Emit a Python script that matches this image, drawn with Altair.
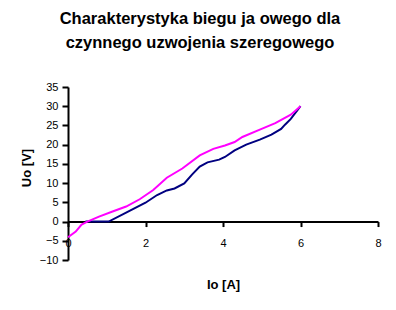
import altair as alt
import pandas as pd

title_lines = ["Charakterystyka biegu ja owego dla", "czynnego uzwojenia szeregowego"]

io_navy = [0.45, 1.05, 1.5, 2.0, 2.3, 2.55, 2.75, 3.0, 3.2, 3.4, 3.6, 3.9, 4.05, 4.3, 4.6, 4.95, 5.25, 5.5, 5.6, 5.75, 6.0]
uo_navy = [0, 0, 2.3, 4.9, 6.9, 8.1, 8.6, 9.9, 12.2, 14.3, 15.4, 16.1, 16.8, 18.5, 20.0, 21.3, 22.6, 24.1, 25.2, 26.7, 30.0]

io_mag = [0, 0.2, 0.35, 0.5, 0.8, 1.15, 1.5, 1.85, 2.2, 2.55, 2.95, 3.4, 3.75, 4.05, 4.3, 4.5, 4.95, 5.35, 5.75, 6.0]
uo_mag = [-4.1, -2.6, -0.8, 0, 1.3, 2.6, 3.9, 5.8, 8.2, 11.4, 13.8, 17.2, 18.9, 19.8, 20.7, 22.0, 23.9, 25.6, 27.8, 30.0]

x_ticks = [0, 2, 4, 6, 8]
y_ticks = [-10, -5, 0, 5, 10, 15, 20, 25, 30, 35]

W, H = 310, 173
zero_off = -(H * 10 / 45)

df_navy = pd.DataFrame({"Io": io_navy, "Uo": uo_navy})
df_mag = pd.DataFrame({"Io": io_mag, "Uo": uo_mag})

FONT = "Liberation Sans"

x_enc = alt.X(
    "Io:Q",
    scale=alt.Scale(domain=[0, 8], nice=False),
    axis=alt.Axis(
        values=x_ticks, title="Io [A]", offset=zero_off, grid=False,
        domainColor="black", domainWidth=2, tickColor="black", tickWidth=2, tickSize=5,
        labelPadding=11, labelFont=FONT, labelFontSize=11, labelColor="black",
        titleFont=FONT, titleFontSize=13, titleFontWeight="bold", titleColor="black",
        titleX=W / 2, titleY=63, titleBaseline="middle", labelFlush=False,
        labelOverlap=False,
    ),
)
y_enc = alt.Y(
    "Uo:Q",
    scale=alt.Scale(domain=[-10, 35], nice=False, zero=False),
    axis=alt.Axis(
        values=y_ticks, tickCount=10, title="Uo [V]", grid=False,
        domainColor="black", domainWidth=2, tickColor="black", tickWidth=2, tickSize=6,
        labelPadding=4, labelFont=FONT, labelFontSize=11, labelColor="black",
        titleFont=FONT, titleFontSize=13, titleFontWeight="bold", titleColor="black",
        titleX=-42, titleY=H / 2 - 6, titleBaseline="middle", labelFlush=False,
        labelOverlap=False,
    ),
)

navy = alt.Chart(df_navy).mark_line(color="#000080", strokeWidth=2).encode(x=x_enc, y=y_enc)
mag = alt.Chart(df_mag).mark_line(color="#FF00FF", strokeWidth=2).encode(x=x_enc, y=y_enc)

chart = (
    alt.layer(navy, mag)
    .properties(
        width=W,
        height=H,
        autosize=alt.AutoSizeParams(type="none"),
        padding={"left": 68, "top": 87, "right": 18, "bottom": 50},
        background="white",
        title=alt.TitleParams(
            text=title_lines, font=FONT, fontSize=16.5, fontWeight="bold", color="black",
            lineHeight=24, anchor="middle", frame="group", dx=-23, offset=30,
        ),
    )
    .configure_view(stroke=None)
)

chart.save("out.html", embed_options={"renderer": "svg", "actions": False})
